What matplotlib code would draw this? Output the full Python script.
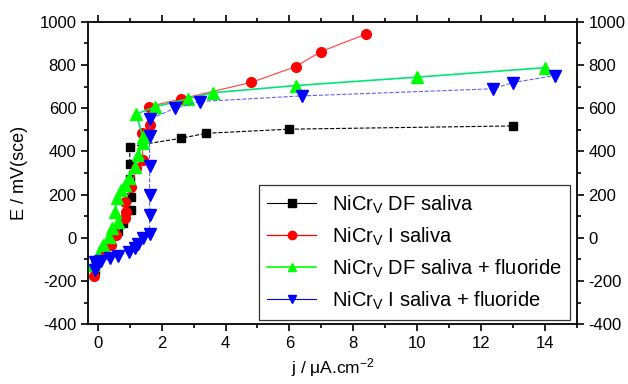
import numpy as np
import matplotlib.pyplot as plt
from matplotlib.ticker import MultipleLocator

plt.rcParams['font.family'] = ['Liberation Sans', 'DejaVu Sans']
plt.rcParams['mathtext.fontset'] = 'custom'
plt.rcParams['mathtext.rm'] = 'Liberation Sans'
plt.rcParams['mathtext.it'] = 'Liberation Sans'
plt.rcParams['axes.unicode_minus'] = False

# NiCrV DF saliva
j_df = [-0.1, 0.16, 0.37, 0.63, 0.8, 1.03, 1.03, 1.0, 1.0, 1.0, 2.6, 3.4, 6.0, 13.0]
e_df = [-150, -57, -26, 30, 70, 130, 190, 270, 340, 422, 461, 484, 503, 518]

# NiCrV I saliva
j_i = [-0.12, -0.05, 0.16, 0.4, 0.58, 0.84, 0.88, 0.84, 1.05, 1.2, 1.41, 1.38, 1.62, 1.59,
       2.6, 4.81, 6.2, 6.98, 8.39]
e_i = [-175, -103, -72, -34, 12, 90, 120, 167, 236, 322, 360, 484, 522, 607,
       643, 720, 793, 862, 943]

# NiCrV DF saliva + fluoride
j_dff = [-0.16, 0.0, 0.16, 0.34, 0.44, 0.63, 0.55, 0.6, 0.73, 0.84, 0.99, 1.15, 1.26,
         1.41, 1.41, 1.2, 1.8, 2.81, 3.61, 6.2, 9.99, 14.02]
e_dff = [-127, -80, -34, 5, 43, 74, 121, 183, 221, 244, 275, 330, 383,
         438, 468, 573, 607, 643, 672, 705, 744, 788]

# NiCrV I saliva + fluoride
j_if = [-0.1, -0.1, 0.11, 0.37, 0.63, 0.99, 1.15, 1.26, 1.41, 1.62, 1.62, 1.62, 1.62,
        1.62, 1.62, 2.41, 3.19, 6.38, 12.37, 13.0, 14.31]
e_if = [-150, -111, -108, -96, -83, -65, -46, -31, -3, 16, 105, 198, 331,
        471, 549, 600, 631, 657, 690, 719, 751]

labels = [r'NiCr$_\mathrm{V}$ DF saliva', r'NiCr$_\mathrm{V}$ I saliva',
          r'NiCr$_\mathrm{V}$ DF saliva + fluoride', r'NiCr$_\mathrm{V}$ I saliva + fluoride']

fig = plt.figure(figsize=(6.28, 3.84), dpi=100)
ax = fig.add_axes([0.1406, 0.156, 0.9183 - 0.1406, 0.943 - 0.156])

ax.plot(j_df, e_df, color='black', lw=0.8, ls='--', marker='s', ms=6,
        mec='black', mfc='black', label=labels[0])
ax.plot(j_i, e_i, color='#ff5050', lw=0.9, marker='o', ms=7,
        mec='red', mfc='red', label=labels[1])
ax.plot(j_dff, e_dff, color='#00e676', lw=1.2, marker='^', ms=8,
        mec='#00ff00', mfc='#00ff00', label=labels[2])
ax.plot(j_if, e_if, color='#6060ff', lw=0.8, ls='--', marker='v', ms=8,
        mec='blue', mfc='blue', label=labels[3])

ax.set_xlim(-0.3, 15)
ax.set_ylim(-400, 1000)
ax.xaxis.set_major_locator(MultipleLocator(2))
ax.xaxis.set_minor_locator(MultipleLocator(1))
ax.yaxis.set_major_locator(MultipleLocator(200))
ax.yaxis.set_minor_locator(MultipleLocator(100))
ax.tick_params(which='both', direction='out', top=True, right=True,
               labelright=True, labelsize=12, width=1.2)
ax.tick_params(which='major', length=5)
ax.tick_params(which='minor', length=3)
for s in ax.spines.values():
    s.set_linewidth(1.3)

ax.set_xlabel(r'j / $\mu$A.cm$^{\mathrm{-2}}$', fontsize=12.5)
ax.set_ylabel('E / mV(sce)', fontsize=13, labelpad=8)

leg = ax.legend(loc='lower right', fontsize=14.5, frameon=True, fancybox=False,
                edgecolor='black', handlelength=2.4, labelspacing=0.48,
                borderaxespad=0, bbox_to_anchor=(0.986, 0.015))
leg.get_frame().set_linewidth(0.9)
for h in leg.get_lines():
    h.set_linestyle('-')
    h.set_markersize(6)
leg.get_lines()[0].set_color('black')
leg.get_lines()[1].set_color('red')
leg.get_lines()[2].set_color('#00ff00')
leg.get_lines()[3].set_color('blue')

fig.savefig('out.png', dpi=100)
